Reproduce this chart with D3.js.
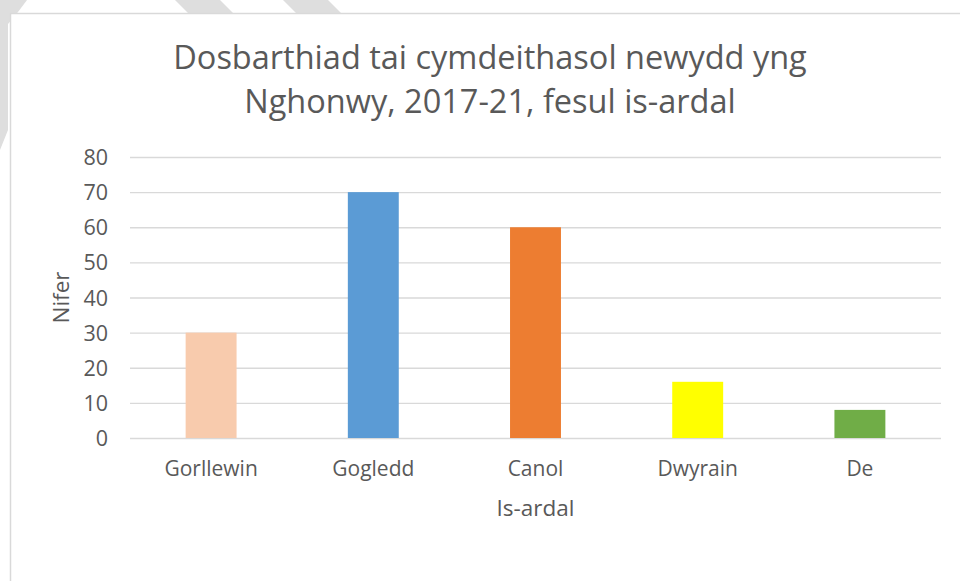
<!DOCTYPE html>
<html>
<head>
<meta charset="utf-8">
<script src="https://cdn.jsdelivr.net/npm/d3@7"></script>
<style>
  html, body { margin: 0; padding: 0; background: #ffffff; }
  svg { display: block; }
  text { font-family: "Open Sans", "DejaVu Sans", sans-serif; fill: #595959; }
</style>
</head>
<body>
<svg id="chart" width="960" height="581"></svg>
<script>
// Data
const categories = ["Gorllewin", "Gogledd", "Canol", "Dwyrain", "De"];
const values = [30, 70, 60, 16, 8];
const barColors = ["#F8CBAD", "#5B9BD5", "#ED7D31", "#FFFF00", "#70AD47"];
const yTicks = [0, 10, 20, 30, 40, 50, 60, 70, 80];
const titleLines = ["Dosbarthiad tai cymdeithasol newydd yng", "Nghonwy, 2017-21, fesul is-ardal"];
const xAxisTitle = "Is-ardal";
const yAxisTitle = "Nifer";

const W = 960, H = 581;
const svg = d3.select("#chart");

// Faint striped page pattern behind the chart frame
const stripeFill = "#dedede";
const stripes = [
  [[0, 0], [27, 0], [18, 12], [8, 24], [8, 130], [0, 150]],
  [[175, 0], [220, 0], [234, 14], [189, 14]],
  [[283, 0], [328, 0], [342, 14], [297, 14]]
];
svg.selectAll("polygon.stripe").data(stripes).join("polygon")
  .attr("class", "stripe")
  .attr("points", d => d.map(p => p.join(",")).join(" "))
  .attr("fill", stripeFill);

// Chart frame
svg.append("rect")
  .attr("x", 10.5).attr("y", 13.5)
  .attr("width", W + 10).attr("height", H + 10)
  .attr("fill", "#ffffff")
  .attr("stroke", "#d9d9d9").attr("stroke-width", 1.5);

// Plot area
const plot = { left: 130, right: 941, top: 157, bottom: 438 };

const x = d3.scaleBand()
  .domain(categories)
  .range([plot.left, plot.right])
  .paddingInner(0.686)
  .paddingOuter(0.343);

const y = d3.scaleLinear()
  .domain([0, 80])
  .range([plot.bottom, plot.top]);

// Gridlines and value labels
const yAxis = d3.axisLeft(y)
  .tickValues(yTicks)
  .tickSize(-(plot.right - plot.left))
  .tickPadding(22)
  .tickFormat(d3.format("d"));

const gy = svg.append("g")
  .attr("transform", `translate(${plot.left},0)`)
  .call(yAxis);
gy.select(".domain").remove();
gy.selectAll(".tick line").attr("stroke", "#d9d9d9").attr("stroke-width", 1.3);
gy.selectAll(".tick text")
  .attr("font-size", 21.5)
  .attr("fill", "#595959")
  .attr("dy", "0.35em");

// Bars
svg.append("g").selectAll("rect").data(values).join("rect")
  .attr("x", (d, i) => x(categories[i]))
  .attr("y", d => y(d))
  .attr("width", x.bandwidth())
  .attr("height", d => y(0) - y(d))
  .attr("fill", (d, i) => barColors[i]);

// Category axis
const xAxis = d3.axisBottom(x).tickSize(0).tickPadding(23);
const gx = svg.append("g")
  .attr("transform", `translate(0,${plot.bottom})`)
  .call(xAxis);
gx.select(".domain").remove();
gx.selectAll(".tick text")
  .attr("font-size", 21)
  .attr("fill", "#595959");

// Axis titles
svg.append("text")
  .attr("x", (plot.left + plot.right) / 2)
  .attr("y", 516)
  .attr("text-anchor", "middle")
  .attr("font-size", 22.5)
  .text(xAxisTitle);

svg.append("text")
  .attr("transform", `translate(69,${(plot.top + plot.bottom) / 2}) rotate(-90)`)
  .attr("text-anchor", "middle")
  .attr("font-size", 22.5)
  .text(yAxisTitle);

// Title
svg.append("g").selectAll("text").data(titleLines).join("text")
  .attr("x", 490)
  .attr("y", (d, i) => 69 + i * 44)
  .attr("text-anchor", "middle")
  .attr("font-size", 32.5)
  .text(d => d);
</script>
</body>
</html>
